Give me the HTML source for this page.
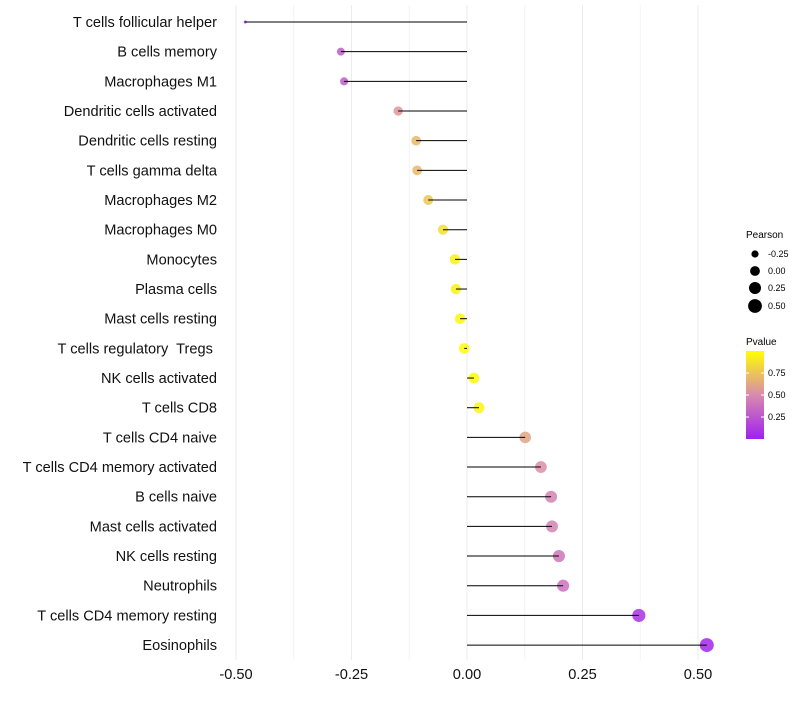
<!DOCTYPE html>
<html><head><meta charset="utf-8"><style>
body{margin:0;background:#fff;font-family:"Liberation Sans",sans-serif}
text{white-space:pre}
</style></head><body>
<svg id="chart" width="800" height="700" xmlns="http://www.w3.org/2000/svg">
<defs><linearGradient id="pg" x1="0" y1="1" x2="0" y2="0">
<stop offset="0" stop-color="#a020f0"/><stop offset="0.5" stop-color="#d88aae"/><stop offset="1" stop-color="#ffff00"/>
</linearGradient></defs>
<g id="grid"></g><g id="points"></g><g id="marks"></g><g id="labels"></g>
<g font-size="9" fill="#000">
<text x="746" y="238" font-size="10">Pearson</text>
<circle cx="755" cy="254" r="3.6"/><text x="768" y="257">-0.25</text>
<circle cx="755" cy="271" r="4.9"/><text x="768" y="274">0.00</text>
<circle cx="755" cy="288" r="6"/><text x="768" y="291">0.25</text>
<circle cx="755" cy="306" r="6.9"/><text x="768" y="309">0.50</text>
</g>
<g font-size="9">
<text x="746" y="345" font-size="10">Pvalue</text>
<rect x="746" y="351" width="18" height="88" fill="url(#pg)"/>
<line x1="746" y1="373" x2="749" y2="373" stroke="#fff"/><line x1="761" y1="373" x2="764" y2="373" stroke="#fff"/>
<line x1="746" y1="395" x2="749" y2="395" stroke="#fff"/><line x1="761" y1="395" x2="764" y2="395" stroke="#fff"/>
<line x1="746" y1="417" x2="749" y2="417" stroke="#fff"/><line x1="761" y1="417" x2="764" y2="417" stroke="#fff"/>
<text x="768" y="376">0.75</text><text x="768" y="398">0.50</text><text x="768" y="420">0.25</text>
</g>
</svg>
<script>
const categories=["T cells follicular helper","B cells memory","Macrophages M1","Dendritic cells activated","Dendritic cells resting","T cells gamma delta","Macrophages M2","Macrophages M0","Monocytes","Plasma cells","Mast cells resting","T cells regulatory  Tregs ","NK cells activated","T cells CD8","T cells CD4 naive","T cells CD4 memory activated","B cells naive","Mast cells activated","NK cells resting","Neutrophils","T cells CD4 memory resting","Eosinophils"];
const pearson=[-0.48,-0.273,-0.266,-0.149,-0.110,-0.108,-0.084,-0.052,-0.026,-0.024,-0.015,-0.006,0.015,0.026,0.126,0.160,0.182,0.184,0.199,0.208,0.372,0.519];
const pvalue=[0.01,0.28,0.28,0.55,0.7,0.7,0.76,0.86,0.94,0.94,0.97,0.99,0.98,0.96,0.62,0.52,0.46,0.46,0.4,0.38,0.08,0.03];
const xTicks=[-0.5,-0.25,0,0.25,0.5];
const xTickLabels=["-0.50","-0.25","0.00","0.25","0.50"];
const NS="http://www.w3.org/2000/svg";
const X=v=>467+v*462;
const Y=i=>22+i*29.67;
function mk(t,a,p){const e=document.createElementNS(NS,t);for(const k in a)e.setAttribute(k,a[k]);document.getElementById(p).appendChild(e);return e;}
function lerp(a,b,t){return a+(b-a)*t;}
function col(p){const s=[[0,[160,32,240]],[0.5,[216,138,174]],[1,[255,255,0]]];let a=p<0.5?s[0]:s[1],b=p<0.5?s[1]:s[2];const t=(p-a[0])/(b[0]-a[0]);return `rgb(${a[1].map((c,i)=>Math.round(lerp(c,b[1][i],t))).join(",")})`;}
for(let k=0;k<xTicks.length;k++){
 const g=mk("line",{x1:X(xTicks[k]),x2:X(xTicks[k]),y1:5,y2:660,stroke:"#ebebeb"},"grid");
 
 
 if(k<xTicks.length-1){const m=mk("line",{x1:X((xTicks[k]+xTicks[k+1])/2),x2:X((xTicks[k]+xTicks[k+1])/2),y1:5,y2:660,stroke:"#f3f3f3"},"grid");
 
 }
 const t=mk("text",{x:X(xTicks[k]),y:679,"text-anchor":"middle","font-size":"14.6",fill:"#111"},"labels");
 t.textContent=xTickLabels[k];
 
 
}
const vmin=-0.48,vmax=0.52;
categories.forEach((c,i)=>{
 const y=Y(i);
 const t=(pearson[i]-vmin)/(vmax-vmin);
 const r=1.5+5.5*Math.sqrt(t);
 const d=mk("circle",{cx:X(pearson[i]),cy:y,r:r,fill:col(pvalue[i]),"fill-opacity":0.85},"points");
 
 
 const l=mk("line",{x1:X(0),x2:X(pearson[i]),y1:y,y2:y,stroke:"#000","stroke-width":1},"marks");
 
 
 const tx=mk("text",{x:217,y:y+5,"text-anchor":"end","font-size":"14.6",fill:"#111"},"labels");
 tx.textContent=c;
 
 
});
</script>
</body></html>
